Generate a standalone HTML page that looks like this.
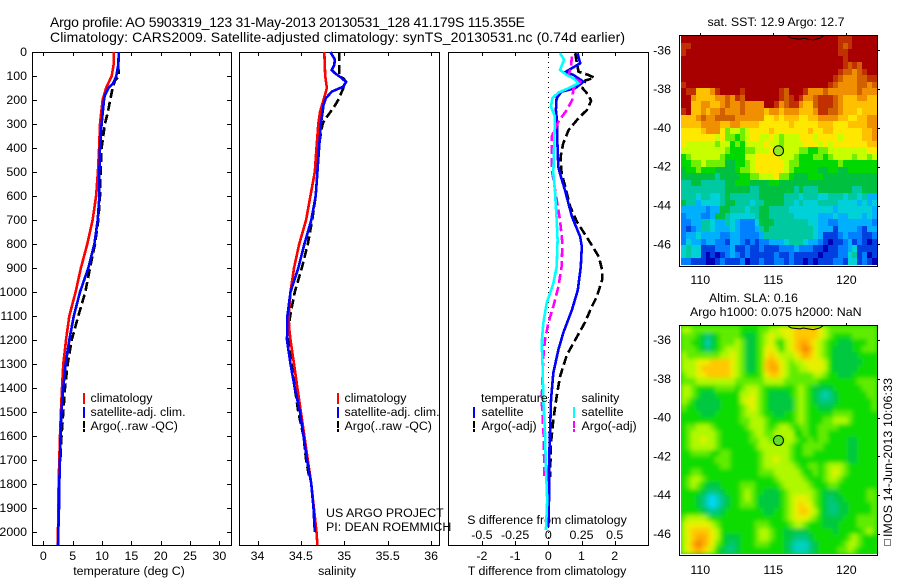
<!DOCTYPE html>
<html lang="en">
<head>
<meta charset="utf-8">
<title>Argo profile</title>
<style>
html,body{margin:0;padding:0;background:#fff;}
svg{display:block;font-family:"Liberation Sans",sans-serif;fill:#000;}
text{font-size:12.4px;}
.title{font-size:14px;}
</style>
</head>
<body>
<svg id="chart" width="900" height="580" viewBox="0 0 900 580" xmlns="http://www.w3.org/2000/svg">
<defs>
<filter id="soft" x="-5%" y="-5%" width="110%" height="110%"><feGaussianBlur stdDeviation="2"/></filter>
<clipPath id="sla-clip"><rect x="681" y="326" width="196" height="228"/></clipPath>
</defs>
<rect x="0" y="0" width="900" height="580" fill="#fff"/>
<text class="title" x="50" y="27" textLength="475">Argo profile: AO 5903319_123 31-May-2013 20130531_128 41.179S 115.355E</text>
<text class="title" x="50" y="42" textLength="575">Climatology: CARS2009. Satellite-adjusted climatology: synTS_20130531.nc (0.74d earlier)</text>
<text x="129" y="575" text-anchor="middle">temperature (deg C)</text>
<text x="337" y="575" text-anchor="middle">salinity</text>
<text x="547" y="575" text-anchor="middle">T difference from climatology</text>
<text x="547" y="524" text-anchor="middle">S difference from climatology</text>
<text x="326" y="517">US ARGO PROJECT</text>
<text x="326" y="531">PI: DEAN ROEMMICH</text>
<text x="776" y="26" text-anchor="middle">sat. SST: 12.9 Argo: 12.7</text>
<text x="709" y="302">Altim. SLA: 0.16</text>
<text x="690" y="316">Argo h1000: 0.075 h2000: NaN</text>
<g>
<rect x="884.5" y="539.5" width="6" height="6" fill="none" stroke="#000" stroke-width="1" stroke-dasharray="1 1"/>
<text transform="translate(892 537) rotate(-90)" textLength="159">IMOS 14-Jun-2013 10:06:33</text>
</g>
<g id="layer"></g>
</svg>
<script>
// ---------- profile axes data ----------
const depthTicks = [0,100,200,300,400,500,600,700,800,900,1000,1100,1200,1300,1400,1500,1600,1700,1800,1900,2000];
const tempTicks = [0,5,10,15,20,25,30];
const salTicks = [34,34.5,35,35.5,36];
const salTickLabels = ['34','34.5','35','35.5','36'];
const tDiffTicks = [-2,-1,0,1,2];
const sDiffTicks = [-0.5,-0.25,0,0.25,0.5];
const sDiffTickLabels = ['-0.5','-0.25','0','0.25','0.5'];

// ---------- temperature profiles ----------
const tempClimDepth = [0,50,100,150,200,300,400,500,600,700,800,900,1000,1100,1200,1300,1400,1500,1600,1700,1800,1900,2000,2055];
const tempClimValue = [12.0,12.0,11.65,10.7,10.1,9.66,9.5,9.3,9.0,8.4,7.5,6.4,5.5,4.43,3.86,3.4,3.18,3.0,2.84,2.73,2.6,2.55,2.5,2.5];
const tempSatDepth = [0,50,100,130,150,180,200,300,400,500,600,700,800,900,1000,1100,1200,1300,1400,1500,1600,1700,1800,1900,2000,2055];
const tempSatValue = [12.84,12.8,12.44,11.9,11.1,10.5,10.34,9.94,9.66,9.55,9.55,9.26,8.7,7.67,6.25,5.2,4.43,3.8,3.4,3.1,2.95,2.84,2.73,2.67,2.55,2.5];
const tempArgoDepth = [0,50,70,100,120,150,200,250,300,400,500,600,700,800,900,1000,1100,1200,1300,1400,1500,1600,1700];
const tempArgoValue = [12.84,12.8,12.8,12.9,12.2,11.8,11.4,11.0,10.5,9.94,9.77,9.66,9.37,8.8,7.95,7.16,5.97,4.83,4.15,3.7,3.4,3.1,2.9];

// ---------- salinity profiles ----------
const salClimDepth = [0,100,150,200,250,300,400,500,600,700,800,900,1000,1100,1150,1200,1300,1400,1500,1600,1700,1800,1900,2000,2055];
const salClimValue = [34.77,34.78,34.8,34.76,34.72,34.70,34.68,34.66,34.61,34.56,34.48,34.42,34.38,34.36,34.365,34.38,34.42,34.46,34.5,34.54,34.58,34.62,34.65,34.68,34.69];
const salSatDepth = [0,31,54,75,89,106,124,144,165,193,221,250,300,350,400,500,600,700,800,900,1000,1100,1200,1300,1400,1500,1600,1700,1800,1900,2000];
const salSatValue = [34.84,34.89,34.885,34.856,34.895,34.96,35.02,34.99,34.856,34.787,34.76,34.75,34.73,34.72,34.71,34.69,34.67,34.62,34.54,34.47,34.38,34.345,34.34,34.38,34.43,34.49,34.53,34.57,34.62,34.645,34.66];
const salArgoDepth = [0,100,110,125,150,200,230,280,300,400,500,600,700,800,900,1000,1100,1200,1300,1400,1500,1600,1700,1780];
const salArgoValue = [34.94,34.94,34.99,35.02,34.99,34.93,34.88,34.78,34.75,34.70,34.69,34.67,34.63,34.58,34.51,34.43,34.376,34.35,34.39,34.43,34.47,34.53,34.56,34.6];

// ---------- difference profiles ----------
const dTSatDepth = [5,47,82,96,124,151,165,193,242,297,367,478,505,575,686,770,811,894,992,1075,1171,1242,1338,1450,1588,1729,1867,1979];
const dTSatValue = [0.88,0.96,0.53,0.76,1.06,0.81,0.40,0.25,0.23,0.27,0.27,0.30,0.35,0.5,0.71,0.96,1.01,0.98,0.89,0.71,0.45,0.30,0.15,0.08,0.05,0.02,0.02,0];
const dTArgoDepth = [5,47,82,96,107,119,151,179,204,242,276,325,381,436,505,561,644,707,783,853,908,950,1019,1061,1125,1187,1262,1354,1437,1533,1629,1771];
const dTArgoValue = [0.81,0.86,0.91,1.21,1.39,1.11,1.03,1.21,1.29,1.16,0.91,0.61,0.45,0.37,0.40,0.51,0.66,0.86,1.21,1.52,1.62,1.62,1.46,1.31,1.11,0.86,0.56,0.35,0.25,0.15,0.08,0.05];
const dSSatDepth = [5,33,75,96,110,131,151,169,193,228,269,367,505,575,700,783,894,964,1047,1129,1212,1308,1450,1588,1729,1867,1992];
const dSSatValue = [0.088,0.119,0.088,0.139,0.189,0.227,0.152,0.076,0.03,0.02,0.05,0.045,0.038,0.05,0.063,0.07,0.063,0.038,-0.013,-0.038,-0.05,-0.043,-0.038,-0.025,-0.018,-0.008,-0.018];
const dSArgoDepth = [19,61,96,124,151,200,242,290,353,485,617,700,797,894,978,1061,1129,1200,1271,1450,1617,1783];
const dSArgoValue = [0.177,0.172,0.152,0.24,0.19,0.18,0.139,0.076,0.025,0.025,0.063,0.088,0.106,0.10,0.076,0.038,0,-0.025,-0.038,-0.05,-0.033,-0.03];

// ---------- map data ----------
const lonTicks = [110,115,120];
const latTicks = [-36,-38,-40,-42,-44,-46];
const floatLon = [115.355];
const floatLat = [-41.179];
const contourLon = [116.03,116.26,116.83,117.05,117.74,118.2,118.42];
const contourLat = [-35.30,-35.38,-35.43,-35.38,-35.47,-35.37,-35.26];
// colour level per grid cell, north to south
const sstCells = [
[15,15,15,15,15,15,15,15,15,15,15,15,15,15,15,15,15,15,15,15,15,15,15,15,15,15,15,15,15,15,15,15,14,14,14,15,15,15,15,15],
[14,14,15,15,15,15,15,15,15,15,15,15,15,15,15,15,15,15,15,15,15,15,15,15,15,15,15,15,15,15,15,15,14,13,14,15,15,15,15,15],
[14,15,15,15,15,15,15,15,15,15,15,15,15,15,15,15,15,15,15,15,15,15,15,15,15,15,15,15,15,15,15,15,14,14,15,15,15,15,15,15],
[15,15,15,15,15,15,15,15,15,15,15,15,15,15,15,15,15,15,15,15,15,15,15,15,15,15,15,15,15,15,15,15,15,14,15,15,15,15,15,15],
[15,15,15,15,15,15,15,15,15,15,15,15,15,15,15,15,15,15,15,15,15,15,15,15,15,15,15,15,15,15,15,15,15,14,13,14,13,15,15,15],
[15,15,15,15,15,15,15,15,15,15,15,15,15,15,15,15,15,15,15,15,15,15,15,15,15,15,15,15,15,15,15,15,14,13,13,12,13,14,15,15],
[15,15,15,15,15,15,15,15,15,15,15,15,15,15,15,15,15,15,15,15,15,15,15,15,15,15,15,15,15,15,15,14,13,12,12,12,13,13,14,14],
[14,15,15,15,15,15,15,15,15,15,15,15,15,15,15,15,15,15,15,15,15,15,15,15,15,15,15,15,15,15,14,13,12,12,12,12,13,13,12,13],
[15,14,14,11,11,11,12,14,15,15,15,15,14,15,15,15,15,15,15,15,14,13,15,15,15,14,12,12,12,13,12,12,12,12,12,12,13,12,12,12],
[15,15,12,11,11,11,11,12,12,13,12,14,13,15,15,15,15,15,15,15,14,13,14,15,14,12,12,13,14,14,14,13,12,11,11,11,12,12,11,11],
[15,15,11,11,12,12,11,11,12,13,12,12,13,12,12,12,12,15,15,14,12,13,14,14,12,11,11,13,14,14,14,13,12,11,11,11,11,11,11,11],
[14,15,11,11,12,11,12,12,13,12,12,12,13,12,12,12,12,11,12,12,11,12,12,12,11,11,11,12,14,14,13,13,12,11,11,11,10,11,11,11],
[11,11,11,12,13,12,12,13,13,13,13,12,12,12,12,12,12,10,10,11,10,11,11,11,10,10,11,11,12,12,12,12,11,11,10,10,11,11,12,12],
[11,11,11,11,12,12,12,12,11,11,12,12,11,11,11,11,10,10,10,10,10,10,11,10,10,10,10,10,11,11,11,10,10,10,11,11,11,11,12,12],
[10,10,10,10,11,12,12,12,10,8,9,9,8,9,10,10,10,10,11,10,10,10,10,10,10,10,11,10,10,11,11,10,10,10,10,10,10,11,11,12],
[10,10,10,10,10,10,10,9,10,8,8,7,8,9,10,10,9,9,10,9,8,9,9,9,10,10,10,9,10,10,10,10,9,10,10,10,10,11,11,12],
[10,9,9,9,9,9,9,8,9,9,7,8,7,9,9,9,9,10,9,9,8,9,9,9,9,10,10,10,9,10,9,10,10,10,10,10,10,10,11,11],
[9,9,9,9,9,9,9,9,9,8,7,7,7,8,8,9,9,9,10,10,8,9,9,9,8,8,7,7,8,8,9,9,9,9,9,9,9,9,10,10],
[7,8,9,9,9,9,9,9,8,7,7,7,7,9,9,10,10,10,10,10,9,9,9,8,7,7,7,8,8,7,8,9,9,9,9,8,9,9,8,9],
[7,7,8,8,9,8,8,8,8,6,6,7,7,8,9,10,10,10,10,10,10,9,8,8,7,7,7,7,7,7,7,7,8,7,7,7,7,7,7,7],
[6,7,7,8,7,7,7,6,6,6,6,7,8,8,9,10,10,10,10,10,10,9,8,7,7,7,7,7,6,6,7,7,6,6,7,7,7,7,7,7],
[6,6,6,6,6,6,6,5,6,6,6,6,7,7,8,8,9,9,9,10,8,8,7,6,6,6,7,7,7,6,6,6,6,6,6,6,6,6,6,6],
[5,5,6,6,5,5,5,5,5,6,6,7,7,7,6,6,6,6,7,7,6,6,6,6,6,6,6,6,6,6,6,6,6,6,6,6,6,6,6,6],
[5,5,5,5,5,5,5,5,5,6,6,6,6,6,5,5,6,6,6,6,6,6,6,5,6,5,5,5,6,6,6,6,6,6,6,5,5,6,6,6],
[5,5,5,4,5,5,4,4,5,6,5,5,5,5,5,5,6,6,6,6,6,5,5,5,4,5,5,5,4,4,5,5,5,4,5,5,4,5,3,3],
[6,5,5,3,4,4,4,4,5,6,6,5,5,5,4,5,5,6,6,6,6,5,5,4,5,4,4,4,5,5,5,5,4,4,4,4,3,4,3,4],
[3,3,3,3,3,2,3,3,6,6,5,5,5,4,5,5,6,6,5,5,5,5,4,4,4,4,4,4,4,4,4,3,4,4,4,4,4,4,4,3],
[2,3,3,3,2,2,3,6,6,5,4,4,4,4,4,5,6,6,5,5,5,5,5,4,4,4,4,4,3,3,3,4,3,3,4,4,4,3,4,3],
[2,2,3,3,5,5,4,3,3,5,4,3,2,2,2,4,6,6,6,5,5,5,5,5,5,5,4,4,3,3,2,2,3,3,3,3,3,3,3,2],
[2,1,2,3,5,5,4,3,3,3,4,3,2,2,2,3,5,6,5,5,5,5,5,5,5,5,5,4,3,3,3,1,3,3,3,3,2,1,3,3],
[2,3,3,4,3,3,3,3,2,2,3,3,2,2,2,2,3,5,5,5,5,5,5,5,5,5,5,4,3,1,1,1,2,3,2,2,2,1,1,2],
[2,4,3,3,2,3,3,2,2,1,3,3,2,1,2,1,2,2,3,3,3,4,5,5,5,4,3,3,2,1,0,1,1,2,3,1,2,1,0,1],
[4,5,4,4,1,1,1,2,2,2,3,1,1,2,1,1,2,1,1,1,2,2,2,3,2,2,2,1,1,0,1,1,2,2,3,4,1,1,1,1],
[4,5,4,4,1,0,1,0,1,2,3,2,1,2,1,1,1,1,1,2,1,1,2,1,1,1,1,1,0,1,1,1,2,2,4,5,1,2,0,1],
[2,2,1,1,1,0,0,1,2,1,1,1,2,0,1,1,2,1,1,2,2,1,2,1,1,0,1,0,1,1,1,2,2,1,4,4,1,2,1,0]
];
const slaCells = [
[9,9,8,8,8,8,8,8,8,8,8,8,7,7,7,7,8,8,9,9,10,10,10,11,11,11,11,11,10,9,8,8,8,8,8,8,8,8,8,8],
[8,8,8,7,6,5,6,7,8,8,8,8,7,6,6,7,8,9,10,9,9,10,10,11,11,11,11,11,10,9,8,7,7,7,7,8,8,8,8,8],
[8,8,7,7,6,4,6,7,8,8,8,9,8,6,6,7,8,9,10,8,7,9,10,11,12,12,11,10,9,8,7,7,6,6,6,7,7,7,8,8],
[8,8,8,7,6,5,6,7,8,9,9,9,8,6,6,7,8,10,10,9,7,9,10,11,12,13,12,10,9,8,7,6,6,6,6,7,7,8,8,8],
[9,8,8,8,8,8,8,8,9,9,10,9,8,6,6,7,8,10,11,10,9,9,9,10,11,12,11,10,9,8,7,6,6,6,6,6,7,7,7,7],
[9,9,9,10,10,10,11,11,11,11,10,9,8,6,6,7,8,11,12,11,10,9,8,9,9,10,10,10,10,9,7,6,6,6,6,6,6,7,7,7],
[9,9,9,10,11,11,11,11,11,11,10,9,8,6,6,7,8,11,12,12,10,9,8,8,9,9,10,10,10,9,7,6,6,6,6,6,7,7,7,7],
[8,9,9,10,10,11,11,11,11,11,10,9,8,7,7,7,8,10,11,11,10,9,8,8,8,8,8,9,9,8,7,7,6,6,6,7,7,7,7,7],
[8,8,8,9,9,9,9,9,9,9,9,8,8,8,8,8,8,9,9,9,9,8,8,8,8,8,8,8,7,7,7,7,7,7,7,7,8,8,8,8],
[9,9,8,7,7,7,7,8,8,8,8,7,8,9,9,9,8,7,7,7,7,7,7,8,9,8,7,6,6,6,6,7,7,7,7,7,7,8,8,8],
[9,9,8,7,6,6,6,7,7,7,7,7,9,9,10,9,8,7,6,6,6,6,7,8,9,8,7,6,5,4,5,6,7,7,7,7,7,7,8,8],
[9,8,7,6,6,6,6,6,7,7,7,7,9,10,10,9,8,7,6,6,6,6,6,8,9,8,7,6,5,5,5,6,7,7,7,7,7,7,7,8],
[8,7,7,6,6,6,6,6,7,7,7,7,8,9,10,9,8,7,6,6,6,6,6,8,9,8,7,7,6,6,6,7,7,7,7,7,7,7,7,8],
[7,7,7,7,6,6,6,7,7,7,7,7,8,9,9,9,8,7,7,6,6,7,7,8,9,8,7,7,7,7,7,8,8,8,8,7,7,7,7,7],
[7,7,7,7,7,7,7,7,7,7,7,7,8,8,9,9,9,8,7,7,7,7,7,8,9,8,7,7,7,8,8,9,9,9,8,7,7,7,7,7],
[7,8,8,9,9,9,8,7,7,7,7,7,7,8,9,9,9,8,7,8,9,9,8,7,8,8,7,7,8,8,8,8,7,7,7,7,7,7,7,7],
[7,8,9,9,9,9,9,8,7,7,7,7,7,7,8,9,9,8,8,9,9,9,9,7,7,8,7,7,8,8,7,7,7,7,7,7,7,7,7,7],
[7,8,9,9,10,9,9,8,7,7,7,7,7,7,8,8,9,9,8,8,8,9,9,8,7,7,8,7,8,8,7,7,7,7,6,6,7,7,7,7],
[7,8,9,9,9,9,9,8,7,7,7,7,7,7,7,8,9,9,9,9,9,9,8,7,7,8,8,8,8,7,7,7,7,7,6,6,7,7,7,7],
[7,7,8,8,8,8,7,7,8,8,7,7,7,7,7,7,8,9,9,9,9,9,8,7,7,8,8,7,7,7,7,7,7,7,6,6,7,7,7,7],
[7,7,7,7,7,7,7,8,8,8,7,7,7,7,7,7,8,9,9,10,9,9,8,7,7,7,7,7,7,7,7,7,7,7,6,6,7,7,7,7],
[7,7,7,7,7,7,7,7,8,8,7,7,7,7,7,7,8,9,9,9,9,9,9,8,7,7,8,8,7,8,9,9,9,8,7,7,7,7,7,7],
[7,7,8,8,7,7,7,7,7,7,7,7,7,7,7,7,8,8,8,9,9,9,9,9,8,7,7,8,7,8,9,10,9,8,7,7,7,7,7,7],
[7,8,9,9,8,7,7,7,7,7,7,7,7,7,7,7,7,7,7,8,9,9,9,9,9,8,7,7,7,8,9,9,8,7,7,7,7,7,7,7],
[7,8,9,8,7,6,6,6,7,7,7,7,8,8,8,7,7,7,7,7,8,9,9,9,9,9,8,7,7,7,8,8,7,7,7,7,7,7,7,7],
[7,7,7,7,6,5,5,5,6,7,7,7,8,9,8,7,7,6,6,6,7,8,9,9,9,9,9,8,7,6,6,6,7,7,7,7,7,7,8,8],
[7,7,7,6,5,4,3,4,5,6,7,7,8,9,8,7,6,6,6,6,7,8,9,10,10,10,9,8,7,6,5,6,6,7,7,7,7,7,8,8],
[7,7,7,6,5,4,3,4,5,6,7,7,8,8,8,7,6,6,6,6,7,8,9,10,11,10,10,8,7,6,5,5,6,6,7,7,7,7,7,8],
[7,7,7,7,6,5,5,5,6,7,7,7,7,7,7,7,7,6,6,7,7,8,9,10,11,11,10,9,7,6,5,5,6,6,7,7,7,7,7,8],
[8,9,9,9,9,8,7,7,7,7,7,7,7,7,7,7,7,7,7,7,7,8,9,10,10,10,9,8,7,6,6,6,6,7,7,7,8,8,8,8],
[9,10,10,10,10,10,9,8,7,7,7,7,7,7,7,8,8,8,7,7,7,7,8,9,9,8,7,7,7,6,6,6,7,7,7,7,8,8,8,8],
[9,10,11,11,11,11,10,9,7,7,7,7,7,7,7,8,9,9,8,7,7,6,6,6,6,6,7,7,7,7,7,6,7,7,7,7,7,8,9,8],
[9,10,11,12,12,11,10,9,7,6,6,6,7,7,7,8,9,9,8,7,7,6,6,5,5,5,6,7,7,7,7,7,7,7,8,9,8,7,7,7],
[9,10,12,13,12,11,10,8,7,6,5,6,7,7,7,8,8,8,7,7,7,6,5,4,4,4,5,6,7,7,7,7,7,8,9,9,8,7,7,7],
[9,10,11,12,11,10,9,7,6,5,5,6,7,7,7,7,7,7,7,7,7,6,5,4,4,4,5,6,7,7,7,7,8,8,9,8,7,7,7,7]
];

// ---------- styling & geometry ----------
const svgNS = 'http://www.w3.org/2000/svg';
const layer = document.getElementById('layer');
const sstPalette = ['#0000b4','#0040e0','#0080ff','#00b0ff','#00d0d8','#00c8a0','#00c040','#00d800','#70f000','#c8ff00','#ffe800','#ffc000','#f09000','#d06000','#c03000','#a80000'];
const slaPalette = ['#0000b4','#0040e0','#0080ff','#00d8ff','#00d0c0','#00c880','#00c840','#10dc00','#60ec00','#b0f800','#e8f000','#ffc800','#ffa800','#f08000','#c03000','#a80000'];
const T = 52, B = 545;
const yDepth = d => T + d * 0.24;
const xTemp = v => 43.3 + v * 5.87;
const xSal = v => 257.5 + (v - 34) * 86.8;
const xDT = v => 548.3 + v * 33.2;
const xDS = v => 548.3 + v * 132.8;

function make(tag, attrs, parent, txt) {
  const e = document.createElementNS(svgNS, tag);
  for (const k in attrs) e.setAttribute(k, attrs[k]);
  if (txt !== undefined) e.textContent = txt;
  (parent || layer).appendChild(e);
  return e;
}

function panel(name, x0, x1, xScale, ticks, labels, labelY, withDepth) {
  const g = make('g', {});
  
  
  const frame = make('rect', {x: x0 + 0.5, y: T + 0.5, width: x1 - x0, height: B - T, fill: 'none', stroke: '#000', 'shape-rendering': 'crispEdges'}, g);
  
  
  ticks.forEach((t, i) => {
    const x = Math.round(xScale(t)) + 0.5;
    const tick = make('path', {d: `M${x} ${T}v4M${x} ${B}v-4`, stroke: '#000', fill: 'none', 'shape-rendering': 'crispEdges'}, g);
    
    
    if (labelY) {
      const lab = make('text', {x: xScale(t), y: labelY, 'text-anchor': 'middle'}, g, labels[i]);
      
      
    }
  });
  if (withDepth) {
    depthTicks.forEach(d => {
      const y = Math.round(yDepth(d)) + 0.5;
      const tick = make('path', {d: `M${x0} ${y}h5M${x1} ${y}h-4`, stroke: '#000', fill: 'none', 'shape-rendering': 'crispEdges'}, g);
      
      
      const lab = make('text', {x: 27, y: yDepth(d) + 4, 'text-anchor': 'end'}, g, String(d));
      
      
    });
  }
}

function profile(name, depths, values, xScale, color, dashed) {
  const pts = depths.map((d, i) => xScale(values[i]).toFixed(1) + ',' + yDepth(d).toFixed(1)).join(' ');
  const attrs = {points: pts, fill: 'none', stroke: color, 'stroke-width': 2.6, 'shape-rendering': 'crispEdges'};
  if (dashed) attrs['stroke-dasharray'] = '9 4';
  const line = make('polyline', attrs);
  
  
}

function legendItem(name, x, y, color, dashed, text, textX) {
  const attrs = {x1: x, x2: x, y1: y - 9, y2: y + 2, stroke: color, 'stroke-width': 2, 'shape-rendering': 'crispEdges'};
  if (dashed) attrs['stroke-dasharray'] = '7 1 3';
  const bar = make('line', attrs);
  
  
  const t = make('text', {x: textX, y: y}, undefined, text);
  
  
}

// ---------- profile panels ----------
panel('temperature-panel', 32, 231, xTemp, tempTicks, tempTicks.map(String), 560, true);
panel('salinity-panel', 239, 439, xSal, salTicks, salTickLabels, 560, false);
panel('difference-panel', 448, 648, xDT, tDiffTicks, tDiffTicks.map(String), 560, false);

sDiffTicks.forEach((s, i) => {
  const lab = make('text', {x: xDS(s), y: 539, 'text-anchor': 'middle'}, undefined, sDiffTickLabels[i]);
  
  
});

const zeroLine = make('line', {x1: xDT(0), x2: xDT(0), y1: T, y2: B, stroke: '#000', 'stroke-dasharray': '1 4', 'shape-rendering': 'crispEdges'});



profile('temperature-argo-line', tempArgoDepth, tempArgoValue, xTemp, '#000', true);
profile('temperature-climatology-line', tempClimDepth, tempClimValue, xTemp, '#f00', false);
profile('temperature-satellite-line', tempSatDepth, tempSatValue, xTemp, '#00f', false);
profile('salinity-argo-line', salArgoDepth, salArgoValue, xSal, '#000', true);
profile('salinity-climatology-line', salClimDepth, salClimValue, xSal, '#f00', false);
profile('salinity-satellite-line', salSatDepth, salSatValue, xSal, '#00f', false);
profile('t-difference-argo-line', dTArgoDepth, dTArgoValue, xDT, '#000', true);
profile('t-difference-satellite-line', dTSatDepth, dTSatValue, xDT, '#00f', false);
profile('s-difference-argo-line', dSArgoDepth, dSArgoValue, xDS, '#f0f', true);
profile('s-difference-satellite-line', dSSatDepth, dSSatValue, xDS, '#0ff', false);

legendItem('temperature-legend-climatology', 84, 402, '#f00', false, 'climatology', 90.5);
legendItem('temperature-legend-satellite', 84, 416, '#00f', false, 'satellite-adj. clim.', 90.5);
legendItem('temperature-legend-argo', 84, 430, '#000', true, 'Argo(..raw -QC)', 90.5);
legendItem('salinity-legend-climatology', 338, 402, '#f00', false, 'climatology', 344.5);
legendItem('salinity-legend-satellite', 338, 416, '#00f', false, 'satellite-adj. clim.', 344.5);
legendItem('salinity-legend-argo', 338, 430, '#000', true, 'Argo(..raw -QC)', 344.5);
const legT = make('text', {x: 481, y: 402}, undefined, 'temperature');


const legS = make('text', {x: 581.5, y: 402}, undefined, 'salinity');


legendItem('difference-legend-t-satellite', 474, 416, '#00f', false, 'satellite', 481.5);
legendItem('difference-legend-t-argo', 474, 430, '#000', true, 'Argo(-adj)', 481.5);
legendItem('difference-legend-s-satellite', 574, 416, '#0ff', false, 'satellite', 581.5);
legendItem('difference-legend-s-argo', 574, 430, '#f0f', true, 'Argo(-adj)', 581.5);

// ---------- maps ----------
function drawMap(name, cells, palette, soft, boxTop, boxBottom, lat36Y, imgTop, imgBottom, labelY, markerFill) {
  const xLon = lon => 700.3 + (lon - 110) * 14.6;
  const yLat = lat => lat36Y + (-36 - lat) * 19.4;
  const lonLat = y => -36 - (y - lat36Y) / 19.4;
  const lon0 = 108.68, lon1 = 122.1;
  const lat0 = lonLat(imgTop), lat1 = lonLat(imgBottom);
  const rows = cells.length;
  const g = make('g', {});
  
  
  let cellParent = g;
  if (soft) {
    const clip = make('g', {'clip-path': 'url(#sla-clip)'}, g);
    
    
    const base = make('rect', {x: 681, y: imgTop, width: 196, height: imgBottom - imgTop, fill: palette[7]}, clip);
    
    
    cellParent = make('g', {filter: 'url(#soft)'}, clip);
    
    
  }
  cells.forEach((row, r) => {
    row.forEach((level, c) => {
      const a = lon0 + (lon1 - lon0) * c / row.length, b = lon0 + (lon1 - lon0) * (c + 1) / row.length;
      const p = lat0 + (lat1 - lat0) * r / rows, q = lat0 + (lat1 - lat0) * (r + 1) / rows;
      const x = Math.round(xLon(a)), y = Math.round(yLat(p));
      const cell = make('rect', {x: x, y: y, width: Math.round(xLon(b)) - x, height: Math.round(yLat(q)) - y, fill: palette[level], 'shape-rendering': 'crispEdges'}, cellParent);
      
      
    });
  });
  const frame = make('rect', {x: 679.5, y: boxTop + 0.5, width: 198, height: boxBottom - boxTop, fill: 'none', stroke: '#000', 'shape-rendering': 'crispEdges'}, g);
  
  
  lonTicks.forEach(lon => {
    const x = Math.round(xLon(lon)) + 0.5;
    const tick = make('line', {x1: x, x2: x, y1: boxTop - 2, y2: boxTop, stroke: '#000', 'shape-rendering': 'crispEdges'}, g);
    
    
    const lab = make('text', {x: xLon(lon), y: labelY, 'text-anchor': 'middle'}, g, String(lon));
    
    
  });
  latTicks.forEach(lat => {
    const y = Math.round(yLat(lat)) + 0.5;
    const tick = make('line', {x1: 878, x2: 880, y1: y, y2: y, stroke: '#000', 'shape-rendering': 'crispEdges'}, g);
    
    
    const lab = make('text', {x: 671, y: yLat(lat) + 4, 'text-anchor': 'end'}, g, String(lat));
    
    
  });
  const contour = make('polyline', {points: contourLon.map((lon, i) => xLon(lon).toFixed(1) + ',' + yLat(contourLat[i]).toFixed(1)).join(' '), fill: 'none', stroke: '#000', 'stroke-width': 1}, g);
  
  
  const marker = make('circle', {cx: xLon(floatLon[0]), cy: yLat(floatLat[0]), r: 5, fill: markerFill, stroke: '#000', 'stroke-width': 1}, g);
  
  
}
drawMap('sst-map', sstCells, sstPalette, false, 35, 266, 50.3, 36, 265, 284, '#98e820');
drawMap('sla-map', slaCells, slaPalette, true, 325, 555, 340, 326, 554, 574, '#60e020');
</script>
</body>
</html>
